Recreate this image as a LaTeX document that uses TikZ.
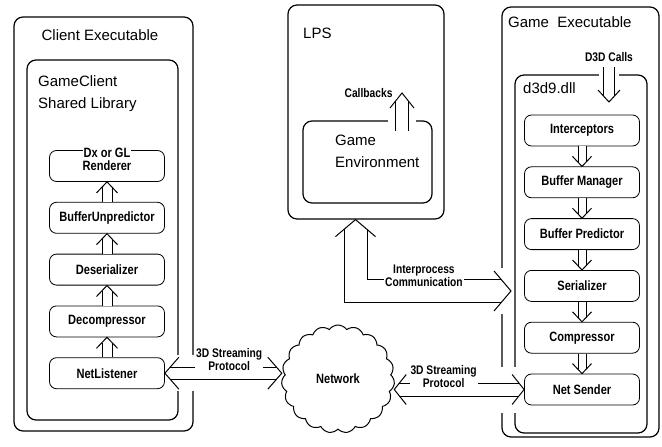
\documentclass[tikz,border=0pt]{standalone}
\usepackage{fontspec}
\setmainfont{Liberation Sans}
\newfontfamily\narrowfont[FakeStretch=0.82]{Liberation Sans}
\usepackage{tikz}
\usetikzlibrary{positioning,shapes.symbols,calc,decorations.markings}
\pgfdeclarelayer{background}
\pgfdeclarelayer{gaps}
\pgfsetlayers{background,gaps,main}

\begin{document}
\begin{tikzpicture}[
    x=1pt, y=-1pt,
    node distance=20pt,
    frame/.style={draw, line width=1.2pt, rounded corners=9pt, inner sep=0pt},
    title/.style={font=\fontsize{15}{22}\selectfont, align=left, inner sep=0pt},
    stage/.style={draw, line width=0.8pt, rounded corners=7pt, fill=white, minimum width=115pt, minimum height=31pt, inner sep=0pt, font=\narrowfont\bfseries\fontsize{13.5}{15}\selectfont},
    lbl/.style={fill=white, inner sep=1pt, align=center, font=\narrowfont\bfseries\fontsize{12.5}{13}\selectfont},
    % hollow arrow: {gap of the two lines}{head length}{head width}
    hollow/.style n args={3}{double, line width=1pt, double distance=#1, shorten >={#2*(#1+1pt)/#3},
        postaction={decorate, decoration={markings, mark=at position 1 with {\draw[line join=miter, shorten >=0pt, shorten <=0pt] (-#2,#3/2) -- (0pt,0pt) -- (-#2,-#3/2);}}}},
    hollowboth/.style n args={3}{hollow={#1}{#2}{#3}, shorten <={#2*(#1+1pt)/#3},
        postaction={decorate, decoration={markings, mark=at position 0 with {\draw[line join=miter, shorten >=0pt, shorten <=0pt] (#2,#3/2) -- (0pt,0pt) -- (#2,-#3/2);}}}},
    whiteout/.style={draw=white, line width=#1}
]
\useasboundingbox (0,0) rectangle (662,447);

% Containers
\begin{pgfonlayer}{background}
\node[frame, minimum width=179pt, minimum height=414pt] (client) at (103.5,224) {};
\node[frame, minimum width=151pt, minimum height=360pt] (gcl) at (102.5,240) {};
\node[frame, minimum width=156pt, minimum height=214pt] (lps) at (366,112) {};
\node[frame, minimum width=129pt, minimum height=82pt] (genv) at (367.5,162) {};
\node[frame, minimum width=157pt, minimum height=430pt] (gexe) at (580.5,222) {};
\node[frame, minimum width=132pt, minimum height=358pt] (d3d) at (581,254) {};
\end{pgfonlayer}

\node[title] (clienttitle) at (100,35) {Client Executable};
\node[title, anchor=west] (gcltitle) at (38,94) {GameClient\\Shared Library};
\node[title, anchor=west] (lpstitle) at (303,33) {LPS};
\node[title, anchor=west] (genvtitle) at (335,151) {Game\\Environment};
\node[title, anchor=west] (gexetitle) at (508,22) {Game\ \ Executable};
\node[title, anchor=west] (d3dtitle) at (523,88) {d3d9.dll};

% Client side
\node[stage, label={[lbl, font=\narrowfont\bfseries\fontsize{13.5}{15}\selectfont, anchor=center, yshift=-3pt]north:Dx or GL}] (render) at (107,166) {Renderer};
\node[stage, below=of render] (bunpred) {BufferUnpredictor};
\node[stage, below=of bunpred] (deser) {Deserializer};
\node[stage, below=of deser] (decomp) {Decompressor};
\node[stage, below=of decomp] (nlist) {NetListener};

% Game side
\node[stage] (icpt) at (582,130.5) {Interceptors};
\node[stage, below=of icpt] (bmgr) {Buffer Manager};
\node[stage, below=of bmgr] (bpred) {Buffer Predictor};
\node[stage, below=of bpred] (ser) {Serializer};
\node[stage, below=of ser] (comp) {Compressor};
\node[stage, below=of comp] (nsend) {Net Sender};

% Network
\node[cloud, draw, line width=1pt, cloud puffs=19, cloud puff arc=110, aspect=1, minimum width=113pt, minimum height=108pt, inner sep=0pt, font=\narrowfont\bfseries\fontsize{13.5}{15}\selectfont] (net) at (338,379) {Network};

\coordinate (ipc) at (511,291);
\coordinate (cbk) at (402,131);
\coordinate (dcalls) at (609,67);

% Gaps in the borders
\begin{pgfonlayer}{gaps}
\draw[whiteout=46pt] ([xshift=-22pt]ipc) -- (ipc);
\draw[whiteout=36pt] (nlist.east) -- (nlist.east -| net.west);
\draw[whiteout=46pt] (net.east |- nsend.west) -- (nsend.west);
\draw[whiteout=28pt] (cbk) -- ++(0,-22);
\draw[whiteout=20pt] (dcalls) -- ++(0,22);
\end{pgfonlayer}

% Arrows
\draw[hollow={9pt}{11pt}{21pt}] (nlist) -- (decomp);
\draw[hollow={9pt}{11pt}{21pt}] (decomp) -- (deser);
\draw[hollow={9pt}{11pt}{21pt}] (deser) -- (bunpred);
\draw[hollow={9pt}{11pt}{21pt}] (bunpred) -- (render);

\draw[hollow={7pt}{10pt}{19pt}] (icpt) -- (bmgr);
\draw[hollow={7pt}{10pt}{19pt}] (bmgr) -- (bpred);
\draw[hollow={7pt}{10pt}{19pt}] (bpred) -- (ser);
\draw[hollow={7pt}{10pt}{19pt}] (ser) -- (comp);
\draw[hollow={7pt}{10pt}{19pt}] (comp) -- (nsend);

\draw[hollowboth={11pt}{14pt}{32pt}] (nlist.east) -- node[lbl, pos=0.55, yshift=14pt] {3D Streaming\\Protocol} (nlist.east -| net.west);
\draw[hollowboth={12pt}{12pt}{30pt}] (net.east |- nsend.west) -- node[lbl, pos=0.38, yshift=13pt] {3D Streaming\\Protocol} (nsend.west);
\draw[hollowboth={22pt}{17pt}{40pt}] ([xshift=-10.5pt]lps.south) |- node[lbl, pos=0.72, yshift=15pt] {Interprocess\\Communication} (ipc);

\draw[hollow={12pt}{15pt}{24pt}] (cbk) -- ++(0,-38) node[lbl, anchor=east, xshift=-8pt] {Callbacks};
\draw[hollow={10pt}{12pt}{22pt}] (dcalls) node[lbl, above=4pt] {D3D Calls} -- ++(0,35);

\end{tikzpicture}
\end{document}
